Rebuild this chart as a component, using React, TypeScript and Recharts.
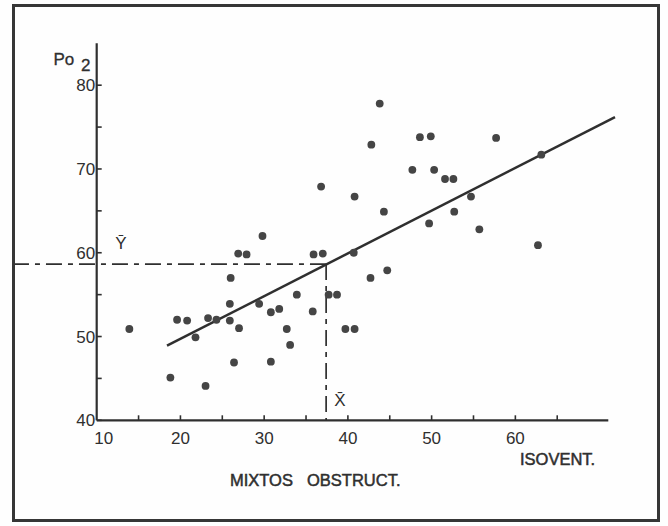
import React from "react";
import { ScatterChart, Scatter, XAxis, YAxis, ReferenceLine } from "recharts";

// isovent (x) vs Po2 (y)
const isoventValues = [
  13.9, 18.8, 19.6, 20.8, 21.8, 23.0, 23.3, 24.3, 26.0, 25.9, 25.9, 26.4, 27.0,
  26.9, 27.9, 29.8, 29.4, 30.8, 31.8, 30.8, 32.7, 33.1, 33.9, 35.8, 35.9, 37.0,
  36.8, 37.7, 38.7, 39.7, 40.8, 40.7, 40.8, 42.7, 42.8, 43.8, 44.3, 44.7, 47.7,
  48.6, 49.9, 50.3, 49.7, 51.6, 52.6, 52.7, 54.7, 55.7, 57.7, 63.1, 62.7,
];
const po2Values = [
  50.9, 45.1, 52.0, 51.9, 49.9, 44.1, 52.2, 52.0, 57.0, 53.9, 51.9, 46.9, 51.0,
  59.9, 59.8, 62.0, 53.9, 52.9, 53.3, 47.0, 50.9, 49.0, 55.0, 53.0, 59.8, 59.9,
  67.9, 55.0, 55.0, 50.9, 50.9, 60.0, 66.7, 57.0, 72.9, 77.8, 64.9, 57.9, 69.9,
  73.8, 73.9, 69.9, 63.5, 68.8, 68.8, 64.9, 66.7, 62.8, 73.7, 71.7, 60.9,
];

const xTicks = [10, 15, 20, 25, 30, 35, 40, 45, 50, 55, 60, 65];
const yTicks = [40, 45, 50, 55, 60, 65, 70, 75, 80];

const meanX = 37.4;
const meanY = 58.65;
const fitStart = { x: 18.4, y: 48.9 };
const fitEnd = { x: 71.9, y: 76.2 };

const points = isoventValues.map((x, i) => ({ x, y: po2Values[i] }));

const INK = "#2f2f2f";
const FONT = '"Liberation Sans", Arial, sans-serif';

function YTick(props: any) {
  const { x, y, payload } = props;
  const v = payload.value;
  return (
    <g>
      <line x1={x} x2={x + 5} y1={y} y2={y} stroke={INK} strokeWidth={1.6} />
      {v % 10 === 0 && (
        <text x={x - 1.5} y={y + 6} textAnchor="end" fontSize={17} fontFamily={FONT} fill={INK}>
          {v}
        </text>
      )}
    </g>
  );
}

function XTick(props: any) {
  const { x, y, payload } = props;
  const v = payload.value;
  return (
    <g>
      {v !== 10 && <line x1={x} x2={x} y1={y} y2={y - 5} stroke={INK} strokeWidth={1.6} />}
      {v % 10 === 0 && (
        <text x={v === 10 ? x + 7 : x} y={y + 23.5} textAnchor="middle" fontSize={17} fontFamily={FONT} fill={INK}>
          {v}
        </text>
      )}
    </g>
  );
}

function Dot(props: any) {
  const { cx, cy } = props;
  return <circle cx={cx} cy={cy} r={3.9} fill="#454545" />;
}

export default function App() {
  return (
    <div style={{ position: "absolute", left: 0, top: 0, width: 668, height: 526, background: "#fefefe" }}>
      <ScatterChart
        width={668}
        height={526}
        margin={{ top: 43.3, right: 59.7, bottom: 75.7, left: 56.7 }}
      >
        <XAxis
          type="number"
          dataKey="x"
          domain={[10, 71.1]}
          ticks={xTicks}
          interval={0}
          height={30}
          tickSize={0}
          tickMargin={0}
          tick={<XTick />}
          axisLine={{ stroke: INK, strokeWidth: 2.2 }}
          allowDataOverflow
        />
        <YAxis
          type="number"
          dataKey="y"
          domain={[40, 85]}
          ticks={yTicks}
          interval={0}
          width={40}
          tickSize={0}
          tickMargin={0}
          tick={<YTick />}
          axisLine={{ stroke: INK, strokeWidth: 2.2 }}
          allowDataOverflow
        />
        <ReferenceLine
          segment={[{ x: 0, y: meanY }, { x: meanX, y: meanY }]}
          stroke={INK}
          strokeWidth={1.7}
          strokeDasharray="16 6 5 6"
          ifOverflow="visible"
        />
        <ReferenceLine
          segment={[{ x: meanX, y: meanY }, { x: meanX, y: 40 }]}
          stroke={INK}
          strokeWidth={1.7}
          strokeDasharray="16 6 5 6"
          ifOverflow="visible"
        />
        <ReferenceLine
          segment={[fitStart, fitEnd]}
          stroke={INK}
          strokeWidth={2.5}
          ifOverflow="visible"
        />
        <Scatter data={points} shape={<Dot />} isAnimationActive={false} />
      </ScatterChart>

      <svg
        width={668}
        height={526}
        style={{ position: "absolute", left: 0, top: 0, pointerEvents: "none" }}
        fontFamily={FONT}
        fill={INK}
      >
        <text x={53.5} y={65.4} fontSize={17} stroke={INK} strokeWidth={0.3}>Po</text>
        <text x={81} y={70.5} fontSize={17} stroke={INK} strokeWidth={0.3}>2</text>
        <text x={121} y={249} fontSize={17} textAnchor="middle">Ȳ</text>
        <text x={340} y={406} fontSize={17} textAnchor="middle">X̄</text>
        <text x={520} y={465} fontSize={16.5} stroke={INK} strokeWidth={0.5}>ISOVENT.</text>
        <text x={230} y={485.5} fontSize={16.5} stroke={INK} strokeWidth={0.5}>MIXTOS</text>
        <text x={307} y={485.5} fontSize={16.5} stroke={INK} strokeWidth={0.5}>OBSTRUCT.</text>
      </svg>

      <div
        style={{
          position: "absolute",
          left: 12,
          top: 4,
          width: 648 - 6,
          height: 518 - 6,
          border: "3px solid #363636",
        }}
      />
    </div>
  );
}
